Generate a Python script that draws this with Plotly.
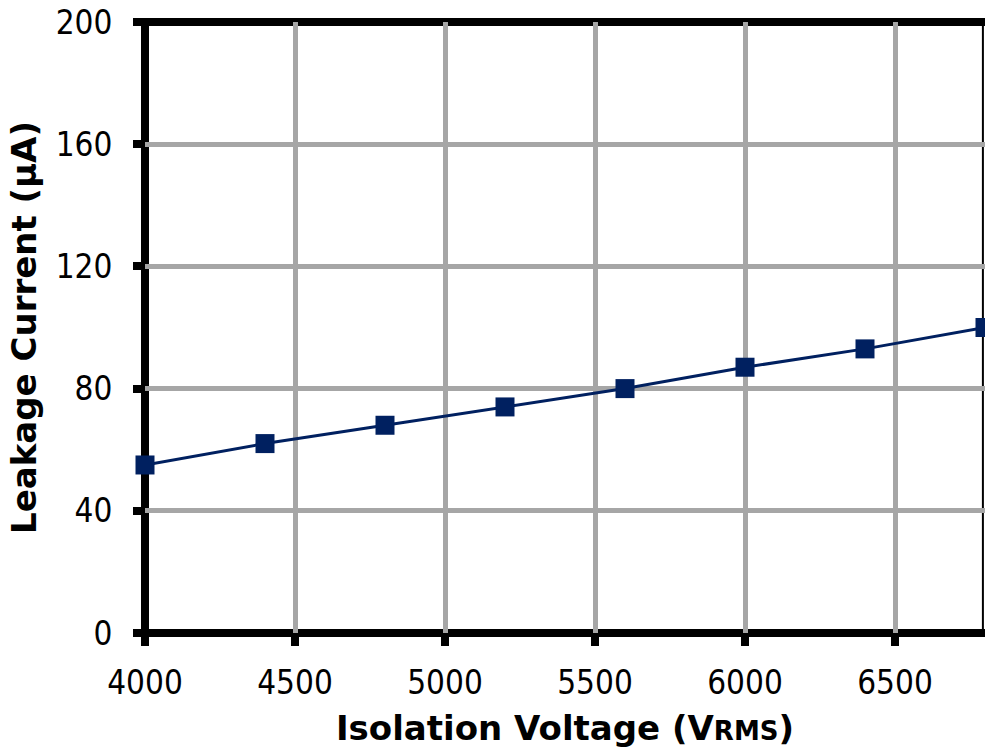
import plotly.graph_objects as go

# Leakage current measured against applied isolation voltage
voltage_vrms = [4000, 4400, 4800, 5200, 5600, 6000, 6400, 6800]
leakage_ua = [55, 62, 68, 74, 80, 87, 93, 100]

x_ticks = [4000, 4500, 5000, 5500, 6000, 6500]
y_ticks = [0, 40, 80, 120, 160, 200]

NAVY = "#002060"
GRID = "#A6A6A6"
TICK_FONT = dict(family="DejaVu Sans Condensed, DejaVu Sans", size=33, color="black")
TITLE_FONT = dict(family="DejaVu Sans", size=34, color="black")

fig = go.Figure()
fig.add_trace(go.Scatter(
    x=voltage_vrms,
    y=leakage_ua,
    mode="lines+markers",
    line=dict(color=NAVY, width=3),
    marker=dict(symbol="square", size=19, color=NAVY),
    cliponaxis=False,
    showlegend=False,
))

# heavy frame on left, top and bottom; thin edge on the right
fig.add_shape(type="path", xref="paper", yref="paper",
              path="M 0,0 L 0,1 L 1,1",
              line=dict(color="black", width=8), layer="between")
fig.add_shape(type="line", xref="paper", yref="paper",
              x0=-0.005, x1=1, y0=0, y1=0,
              line=dict(color="black", width=8), layer="between")
fig.add_shape(type="line", xref="paper", yref="paper",
              x0=0.9975, x1=0.9975, y0=0, y1=1,
              line=dict(color="black", width=2), layer="between")

fig.update_layout(
    width=985, height=753,
    margin=dict(l=145, r=0, t=22, b=120),
    paper_bgcolor="white",
    plot_bgcolor="white",
    xaxis=dict(
        range=[4000, 6800],
        tickvals=x_ticks,
        ticktext=[str(v) for v in x_ticks],
        showgrid=True, gridcolor=GRID, gridwidth=4.5,
        zeroline=False, showline=False,
        ticks="outside", ticklen=12, tickwidth=8, tickcolor="black",
        tickfont=TICK_FONT,
        ticklabelstandoff=8,
        title=dict(text="<b>Isolation Voltage (V<span style='font-size:26px'>RMS</span>)</b>",
                   font=TITLE_FONT, standoff=15),
    ),
    yaxis=dict(
        range=[0, 200],
        tickvals=y_ticks,
        showgrid=True, gridcolor=GRID, gridwidth=4.5,
        zeroline=False, showline=False,
        ticks="outside", ticklen=11, tickwidth=8, tickcolor="black",
        tickfont=TICK_FONT,
        ticklabelstandoff=14,
        title=dict(text="<b>Leakage Current (µA)</b>", font=TITLE_FONT, standoff=8),
    ),
)

fig.write_html("out.html")
